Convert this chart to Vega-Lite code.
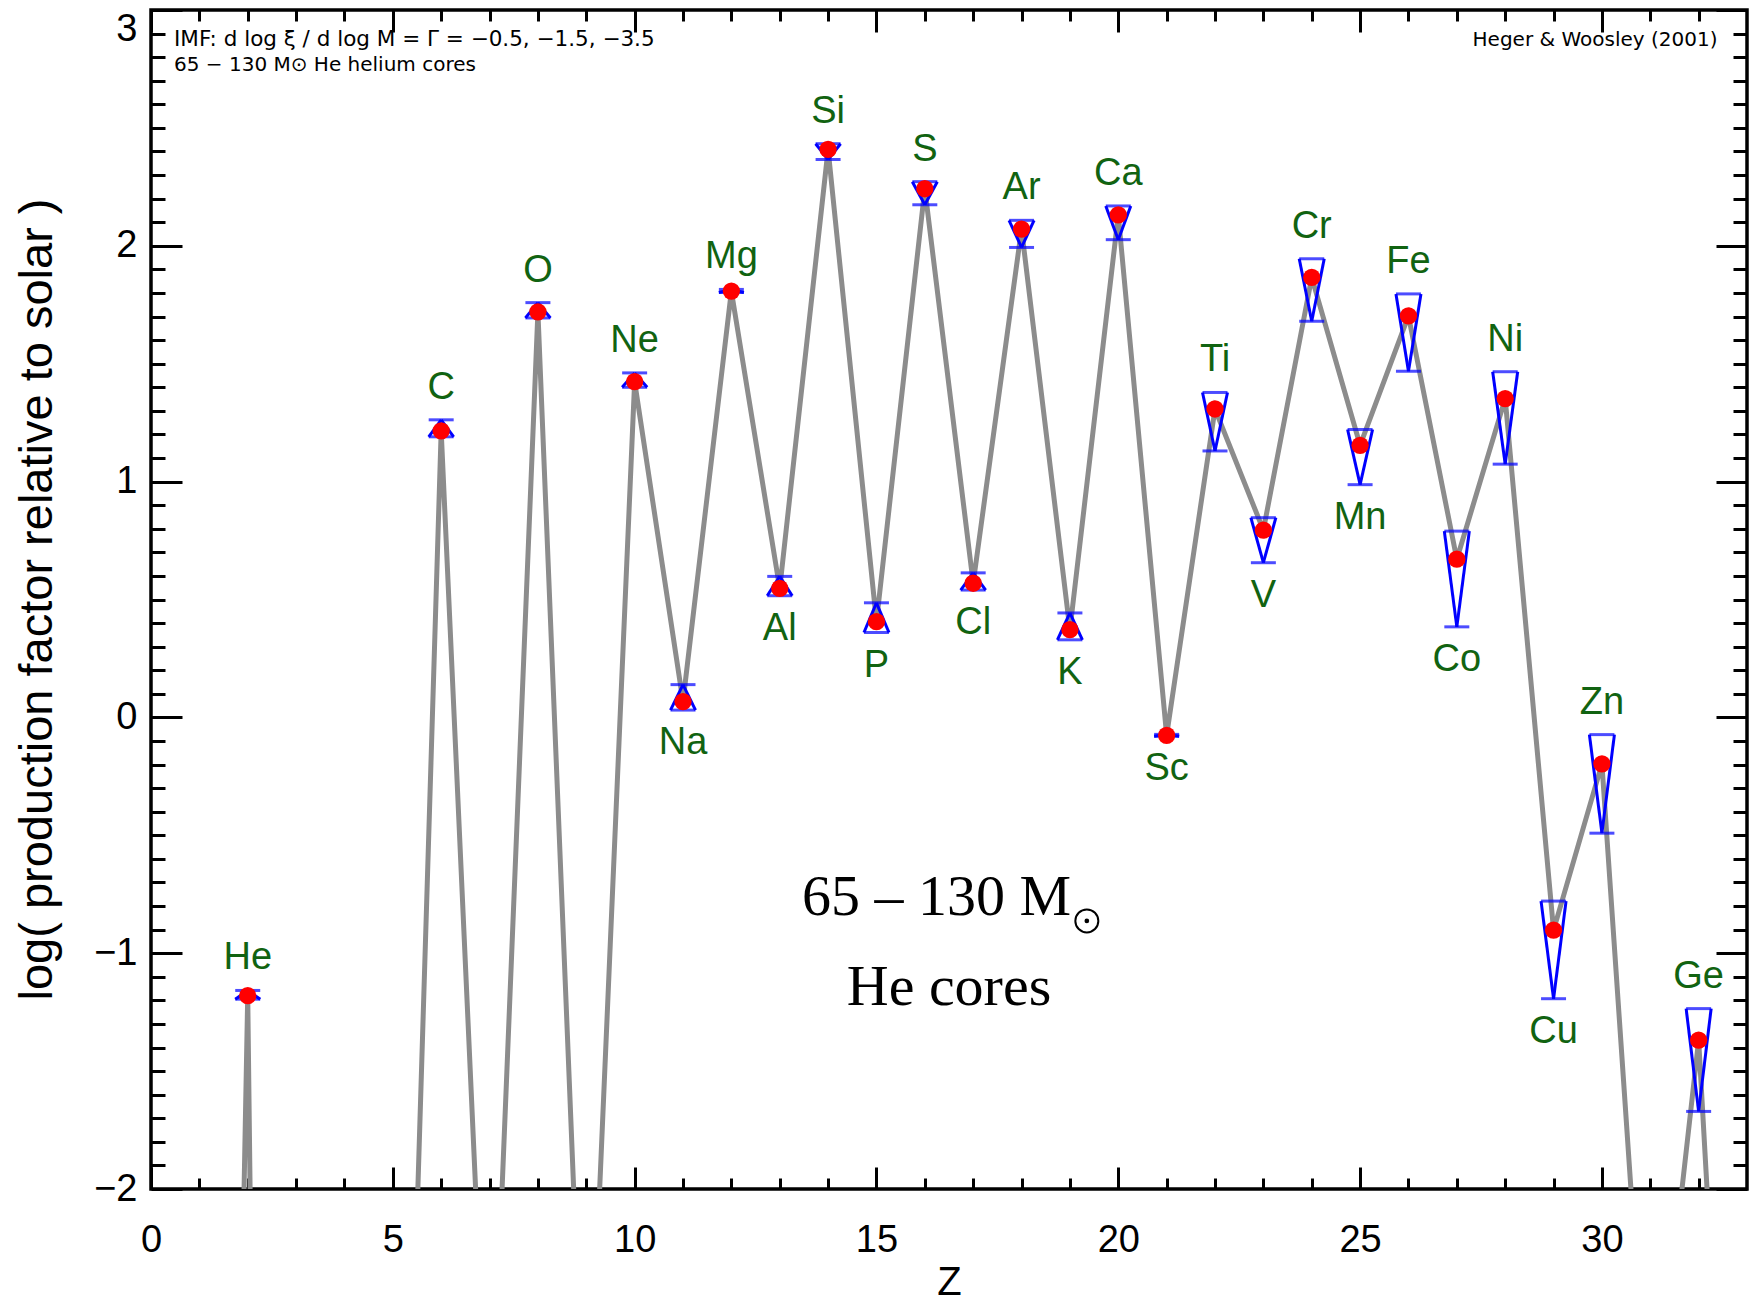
{
  "$schema": "https://vega.github.io/schema/vega-lite/v6.json",
  "autosize": {"type": "none"},
  "padding": {"left": 151, "top": 10, "right": 9, "bottom": 113},
  "width": 1596,
  "height": 1179,
  "background": "white",
  "config": {
    "view": {"stroke": "black", "strokeWidth": 3.5},
    "axis": {
      "grid": false,
      "domain": false,
      "tickColor": "black",
      "tickWidth": 3,
      "labelColor": "black",
      "titleColor": "black",
      "labelFont": "Liberation Sans",
      "titleFont": "Liberation Sans",
      "titleFontWeight": "normal",
      "labelOverlap": false,
      "labelFlush": false,
      "labelBound": false
    }
  },
  "datasets": {
    "elements": [
      {"Z": 1, "sym": "H", "val": -12.0},
      {"Z": 2, "sym": "He", "val": -1.18, "tip": -1.158, "base": -1.195},
      {"Z": 3, "sym": "Li", "val": -18.0},
      {"Z": 4, "sym": "Be", "val": -12.0},
      {"Z": 5, "sym": "B", "val": -5.45},
      {"Z": 6, "sym": "C", "val": 1.215, "tip": 1.262, "base": 1.19},
      {"Z": 7, "sym": "N", "val": -3.3},
      {"Z": 8, "sym": "O", "val": 1.72, "tip": 1.759, "base": 1.694},
      {"Z": 9, "sym": "F", "val": -3.31},
      {"Z": 10, "sym": "Ne", "val": 1.424, "tip": 1.461, "base": 1.4},
      {"Z": 11, "sym": "Na", "val": 0.067, "tip": 0.139, "base": 0.031},
      {"Z": 12, "sym": "Mg", "val": 1.808, "tip": 1.815, "base": 1.802},
      {"Z": 13, "sym": "Al", "val": 0.547, "tip": 0.598, "base": 0.516},
      {"Z": 14, "sym": "Si", "val": 2.409, "tip": 2.366, "base": 2.433},
      {"Z": 15, "sym": "P", "val": 0.406, "tip": 0.486, "base": 0.36},
      {"Z": 16, "sym": "S", "val": 2.242, "tip": 2.174, "base": 2.272},
      {"Z": 17, "sym": "Cl", "val": 0.569, "tip": 0.613, "base": 0.54},
      {"Z": 18, "sym": "Ar", "val": 2.071, "tip": 1.993, "base": 2.108},
      {"Z": 19, "sym": "K", "val": 0.372, "tip": 0.443, "base": 0.329},
      {"Z": 20, "sym": "Ca", "val": 2.131, "tip": 2.026, "base": 2.169},
      {"Z": 21, "sym": "Sc", "val": -0.076, "tip": -0.072, "base": -0.08},
      {"Z": 22, "sym": "Ti", "val": 1.308, "tip": 1.13, "base": 1.378},
      {"Z": 23, "sym": "V", "val": 0.794, "tip": 0.656, "base": 0.847},
      {"Z": 24, "sym": "Cr", "val": 1.866, "tip": 1.68, "base": 1.945},
      {"Z": 25, "sym": "Mn", "val": 1.154, "tip": 0.987, "base": 1.221},
      {"Z": 26, "sym": "Fe", "val": 1.703, "tip": 1.468, "base": 1.796},
      {"Z": 27, "sym": "Co", "val": 0.671, "tip": 0.384, "base": 0.79},
      {"Z": 28, "sym": "Ni", "val": 1.352, "tip": 1.074, "base": 1.466},
      {"Z": 29, "sym": "Cu", "val": -0.902, "tip": -1.193, "base": -0.779},
      {"Z": 30, "sym": "Zn", "val": -0.197, "tip": -0.491, "base": -0.073},
      {"Z": 31, "sym": "Ga", "val": -3.2},
      {"Z": 32, "sym": "Ge", "val": -1.369, "tip": -1.671, "base": -1.235},
      {"Z": 33, "sym": "As", "val": -5.0}
    ]
  },
  "data": {"name": "elements"},
  "resolve": {"axis": {"x": "independent", "y": "independent"}},
  "layer": [
    {
      "description": "production factors joined across Z, clipped to the frame",
      "mark": {"type": "line", "color": "#8c8c8c", "strokeWidth": 5, "clip": true},
      "encoding": {
        "x": {
          "field": "Z", "type": "quantitative",
          "scale": {"domain": [0, 33], "nice": false, "zero": false},
          "axis": {
            "orient": "bottom",
            "values": [0,1,2,3,4,5,6,7,8,9,10,11,12,13,14,15,16,17,18,19,20,21,22,23,24,25,26,27,28,29,30,31,32],
            "tickSize": {"condition": {"test": "datum.value % 5 === 0", "value": -22}, "value": -11},
            "labelExpr": "datum.value % 5 === 0 ? datum.label : ''",
            "labelFontSize": 38,
            "labelPadding": 54,
            "title": "Z",
            "titleFontSize": 40,
            "titleBaseline": "middle",
            "titleY": 93
          }
        },
        "y": {
          "field": "val", "type": "quantitative",
          "scale": {"domain": [-2, 3], "nice": false, "zero": false},
          "axis": {
            "orient": "left",
            "values": [-2,-1.9,-1.8,-1.7,-1.6,-1.5,-1.4,-1.3,-1.2,-1.1,-1,-0.9,-0.8,-0.7,-0.6,-0.5,-0.4,-0.3,-0.2,-0.1,0,0.1,0.2,0.3,0.4,0.5,0.6,0.7,0.8,0.9,1,1.1,1.2,1.3,1.4,1.5,1.6,1.7,1.8,1.9,2,2.1,2.2,2.3,2.4,2.5,2.6,2.7,2.8,2.9,3],
            "tickSize": {"condition": {"test": "abs(datum.value - round(datum.value)) < 0.001", "value": -31}, "value": -14},
            "labelExpr": "abs(datum.value - round(datum.value)) < 0.001 ? format(round(datum.value), 'd') : ''",
            "labelBaseline": {"condition": {"test": "datum.value > 2.99", "value": "top"}, "value": "middle"},
            "labelFontSize": 38,
            "labelPadding": 45,
            "title": "log( production factor relative to solar )",
            "titleFontSize": 47,
            "titleAngle": -90,
            "titleAlign": "center",
            "titleBaseline": "middle",
            "titleX": -114,
            "titleY": 589
          }
        }
      }
    },
    {
      "description": "bar at the narrow end of each range",
      "transform": [{"filter": "isValid(datum.tip)"}],
      "mark": {"type": "tick", "orient": "horizontal", "color": "#0000ff", "size": 25, "thickness": 3},
      "encoding": {
        "x": {
          "field": "Z", "type": "quantitative",
          "axis": {
            "orient": "top",
            "values": [0,1,2,3,4,5,6,7,8,9,10,11,12,13,14,15,16,17,18,19,20,21,22,23,24,25,26,27,28,29,30,31,32],
            "tickSize": {"condition": {"test": "datum.value % 5 === 0", "value": -22}, "value": -11},
            "labels": false,
            "title": null
          }
        },
        "y": {
          "field": "tip", "type": "quantitative",
          "axis": {
            "orient": "right",
            "values": [-2,-1.9,-1.8,-1.7,-1.6,-1.5,-1.4,-1.3,-1.2,-1.1,-1,-0.9,-0.8,-0.7,-0.6,-0.5,-0.4,-0.3,-0.2,-0.1,0,0.1,0.2,0.3,0.4,0.5,0.6,0.7,0.8,0.9,1,1.1,1.2,1.3,1.4,1.5,1.6,1.7,1.8,1.9,2,2.1,2.2,2.3,2.4,2.5,2.6,2.7,2.8,2.9,3],
            "tickSize": {"condition": {"test": "abs(datum.value - round(datum.value)) < 0.001", "value": -31}, "value": -14},
            "labels": false,
            "title": null
          }
        }
      }
    },
    {
      "description": "wide end of each range",
      "transform": [{"filter": "isValid(datum.base)"}],
      "mark": {"type": "tick", "orient": "horizontal", "color": "#0000ff", "size": 25, "thickness": 3},
      "encoding": {
        "x": {"field": "Z", "type": "quantitative", "axis": null},
        "y": {"field": "base", "type": "quantitative", "axis": null}
      }
    },
    {
      "description": "left side of the range wedge",
      "transform": [{"filter": "isValid(datum.tip)"}],
      "mark": {"type": "rule", "color": "#0000ff", "strokeWidth": 3, "xOffset": -12.5, "x2Offset": 0},
      "encoding": {
        "x": {"field": "Z", "type": "quantitative", "axis": null},
        "x2": {"field": "Z"},
        "y": {"field": "base", "type": "quantitative", "axis": null},
        "y2": {"field": "tip"}
      }
    },
    {
      "description": "right side of the range wedge",
      "transform": [{"filter": "isValid(datum.tip)"}],
      "mark": {"type": "rule", "color": "#0000ff", "strokeWidth": 3, "xOffset": 12.5, "x2Offset": 0},
      "encoding": {
        "x": {"field": "Z", "type": "quantitative", "axis": null},
        "x2": {"field": "Z"},
        "y": {"field": "base", "type": "quantitative", "axis": null},
        "y2": {"field": "tip"}
      }
    },
    {
      "description": "central value",
      "transform": [{"filter": "isValid(datum.tip)"}],
      "mark": {"type": "point", "shape": "circle", "filled": true, "color": "#ff0000", "opacity": 1, "size": 300},
      "encoding": {
        "x": {"field": "Z", "type": "quantitative", "axis": null},
        "y": {"field": "val", "type": "quantitative", "axis": null}
      }
    },
    {
      "transform": [{"filter": {"field": "sym", "oneOf": ["He", "C", "O", "Ne", "Mg"]}}],
      "mark": {"type": "text", "font": "Liberation Sans", "fontSize": 38, "color": "#116311", "baseline": "middle", "dy": -32},
      "encoding": {
        "x": {"field": "Z", "type": "quantitative", "axis": null},
        "y": {"field": "tip", "type": "quantitative", "axis": null},
        "text": {"field": "sym"}
      }
    },
    {
      "transform": [{"filter": {"field": "sym", "oneOf": ["Si", "S", "Ar", "Ca", "Ti", "Cr", "Fe", "Ni", "Zn", "Ge"]}}],
      "mark": {"type": "text", "font": "Liberation Sans", "fontSize": 38, "color": "#116311", "baseline": "middle", "dy": -32},
      "encoding": {
        "x": {"field": "Z", "type": "quantitative", "axis": null},
        "y": {"field": "base", "type": "quantitative", "axis": null},
        "text": {"field": "sym"}
      }
    },
    {
      "transform": [{"filter": {"field": "sym", "oneOf": ["Na", "Al", "P", "Cl", "K", "Sc"]}}],
      "mark": {"type": "text", "font": "Liberation Sans", "fontSize": 38, "color": "#116311", "baseline": "middle", "dy": 33},
      "encoding": {
        "x": {"field": "Z", "type": "quantitative", "axis": null},
        "y": {"field": "base", "type": "quantitative", "axis": null},
        "text": {"field": "sym"}
      }
    },
    {
      "transform": [{"filter": {"field": "sym", "oneOf": ["V", "Mn", "Co", "Cu"]}}],
      "mark": {"type": "text", "font": "Liberation Sans", "fontSize": 38, "color": "#116311", "baseline": "middle", "dy": 33},
      "encoding": {
        "x": {"field": "Z", "type": "quantitative", "axis": null},
        "y": {"field": "tip", "type": "quantitative", "axis": null},
        "text": {"field": "sym"}
      }
    },
    {
      "data": {"values": [{}]},
      "mark": {"type": "text", "text": "IMF: d log ξ / d log M = Γ = −0.5, −1.5, −3.5", "font": "DejaVu Sans", "fontSize": 21.5, "align": "left", "baseline": "middle", "color": "black"},
      "encoding": {
        "x": {"datum": 0.476, "type": "quantitative", "axis": null},
        "y": {"datum": 2.871, "type": "quantitative", "axis": null}
      }
    },
    {
      "data": {"values": [{}]},
      "mark": {"type": "text", "text": "65 − 130 M⊙ He helium cores", "font": "DejaVu Sans", "fontSize": 20, "align": "left", "baseline": "middle", "color": "black"},
      "encoding": {
        "x": {"datum": 0.476, "type": "quantitative", "axis": null},
        "y": {"datum": 2.767, "type": "quantitative", "axis": null}
      }
    },
    {
      "data": {"values": [{}]},
      "mark": {"type": "text", "text": "Heger & Woosley (2001)", "font": "DejaVu Sans", "fontSize": 20, "align": "right", "baseline": "middle", "color": "black"},
      "encoding": {
        "x": {"datum": 32.39, "type": "quantitative", "axis": null},
        "y": {"datum": 2.871, "type": "quantitative", "axis": null}
      }
    },
    {
      "data": {"values": [{}]},
      "mark": {"type": "text", "text": "65 – 130 M", "font": "Liberation Serif", "fontSize": 58, "align": "left", "baseline": "alphabetic", "color": "black"},
      "encoding": {
        "x": {"datum": 13.46, "type": "quantitative", "axis": null},
        "y": {"datum": -0.838, "type": "quantitative", "axis": null}
      }
    },
    {
      "data": {"values": [{}]},
      "mark": {"type": "text", "text": "He cores", "font": "Liberation Serif", "fontSize": 58, "align": "center", "baseline": "alphabetic", "color": "black"},
      "encoding": {
        "x": {"datum": 16.5, "type": "quantitative", "axis": null},
        "y": {"datum": -1.22, "type": "quantitative", "axis": null}
      }
    },
    {
      "description": "solar symbol: ring",
      "data": {"values": [{}]},
      "mark": {"type": "point", "shape": "circle", "filled": false, "stroke": "black", "strokeWidth": 2, "size": 529, "opacity": 1},
      "encoding": {
        "x": {"datum": 19.35, "type": "quantitative", "axis": null},
        "y": {"datum": -0.863, "type": "quantitative", "axis": null}
      }
    },
    {
      "description": "solar symbol: centre dot",
      "data": {"values": [{}]},
      "mark": {"type": "point", "shape": "circle", "filled": true, "color": "black", "size": 22, "opacity": 1},
      "encoding": {
        "x": {"datum": 19.35, "type": "quantitative", "axis": null},
        "y": {"datum": -0.863, "type": "quantitative", "axis": null}
      }
    }
  ]
}
